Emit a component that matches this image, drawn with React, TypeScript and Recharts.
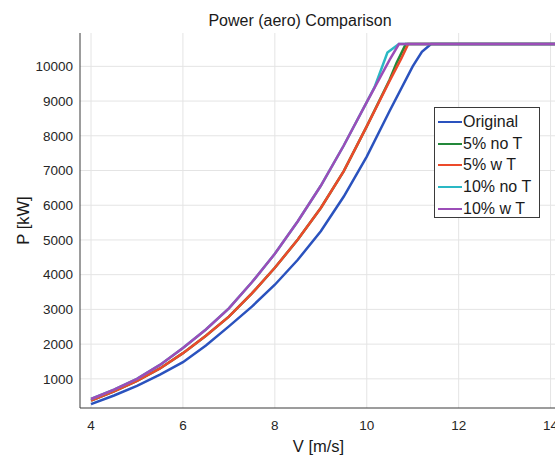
import React from 'react';
import { LineChart, Line, XAxis, YAxis, CartesianGrid, Legend } from 'recharts';

// ---- data ----
const xTicks = [4, 6, 8, 10, 12, 14];
const yTicks = [1000, 2000, 3000, 4000, 5000, 6000, 7000, 8000, 9000, 10000];

const vOriginal = [4, 4.5, 5, 5.5, 6, 6.5, 7, 7.5, 8, 8.5, 9, 9.5, 10, 10.5, 11, 11.2, 11.4, 12, 13, 14, 15];
const pOriginal = [270, 520, 800, 1120, 1480, 1960, 2510, 3080, 3710, 4430, 5250, 6250, 7400, 8720, 10000, 10420, 10640, 10640, 10640, 10640, 10640];

const v5noT = [4, 4.5, 5, 5.5, 6, 6.5, 7, 7.5, 8, 8.5, 9, 9.5, 10, 10.5, 10.65, 10.85, 11, 12, 13, 14, 15];
const p5noT = [370, 640, 940, 1300, 1740, 2240, 2790, 3460, 4200, 5010, 5920, 6980, 8270, 9620, 10100, 10640, 10640, 10640, 10640, 10640, 10640];

const v5wT = [4, 4.5, 5, 5.5, 6, 6.5, 7, 7.5, 8, 8.5, 9, 9.5, 10, 10.5, 10.75, 10.9, 11, 12, 13, 14, 15];
const p5wT = [370, 640, 940, 1300, 1740, 2240, 2790, 3460, 4200, 5010, 5920, 6980, 8270, 9590, 10220, 10640, 10640, 10640, 10640, 10640, 10640];

const v10noT = [4, 4.5, 5, 5.5, 6, 6.5, 7, 7.5, 8, 8.5, 9, 9.5, 10, 10.17, 10.45, 10.7, 11, 12, 13, 14, 15];
const p10noT = [420, 690, 1000, 1400, 1890, 2420, 3030, 3780, 4600, 5540, 6560, 7720, 8970, 9400, 10400, 10640, 10640, 10640, 10640, 10640, 10640];

const v10wT = [4, 4.5, 5, 5.5, 6, 6.5, 7, 7.5, 8, 8.5, 9, 9.5, 10, 10.5, 10.7, 11, 12, 13, 14, 15];
const p10wT = [420, 690, 1000, 1400, 1890, 2420, 3030, 3780, 4600, 5540, 6560, 7720, 8970, 10190, 10640, 10640, 10640, 10640, 10640, 10640];

const seriesNames = ['Original', '5% no T', '5% w T', '10% no T', '10% w T'];
const seriesColors = ['#2a52be', '#23883a', '#ec4a2a', '#2ab8c4', '#9c4db8'];
const seriesV = [vOriginal, v5noT, v5wT, v10noT, v10wT];
const seriesP = [pOriginal, p5noT, p5wT, p10noT, p10wT];

const FONT = '"Liberation Sans", Arial, Helvetica, sans-serif';
const AXIS = '#3a3a3a';
const GRID = '#e4e4e4';

const series = seriesNames.map((name, i) => ({
  name,
  color: seriesColors[i],
  data: seriesV[i].map((v, j) => ({ v, p: seriesP[i][j] })),
}));

const renderLegend = () => (
  <div
    style={{
      border: `1px solid ${AXIS}`,
      background: '#fff',
      width: 106,
      height: 111,
      boxSizing: 'border-box',
      paddingTop: 3,
      textAlign: 'left',
    }}
  >
    {series.map((s) => (
      <div key={s.name} style={{ display: 'flex', alignItems: 'center', height: 21.7 }}>
        <div style={{ width: 24, height: 2, background: s.color, marginLeft: 3, marginRight: 1 }} />
        <span style={{ fontFamily: FONT, fontSize: 16, color: '#1a1a1a', lineHeight: '18px' }}>{s.name}</span>
      </div>
    ))}
  </div>
);

const YLabel = (props: any) => {
  const vb = props.viewBox || {};
  const cx = 28.5;
  const cy = vb.y + vb.height / 2;
  return (
    <text
      x={cx}
      y={cy}
      transform={`rotate(-90 ${cx} ${cy})`}
      textAnchor="middle"
      fontFamily={FONT}
      fontSize={16.5}
      fill="#1a1a1a"
    >
      P [kW]
    </text>
  );
};

export default function App() {
  const xDomain: [number, number] = [3.76, 14.14];
  const yDomain: [number, number] = [160, 10960];
  return (
    <div
      style={{
        position: 'absolute',
        left: 0,
        top: 0,
        width: 555,
        height: 457,
        overflow: 'hidden',
        background: '#fff',
      }}
    >
      <div
        style={{
          position: 'absolute',
          left: 300,
          top: 12.5,
          transform: 'translateX(-50%)',
          fontFamily: FONT,
          fontSize: 16,
          lineHeight: '16px',
          whiteSpace: 'nowrap',
          color: '#1a1a1a',
          zIndex: 2,
        }}
      >
        Power (aero) Comparison
      </div>
      <LineChart width={580} height={457} margin={{ top: 33, right: 23, bottom: 0, left: 0 }}>
        <CartesianGrid stroke={GRID} strokeWidth={1} verticalValues={xTicks} horizontalValues={yTicks} />
        <XAxis
          dataKey="v"
          type="number"
          domain={xDomain}
          ticks={xTicks}
          allowDataOverflow
          height={49}
          tickLine={false}
          tickSize={6}
          tickMargin={6.5}
          axisLine={{ stroke: AXIS, strokeWidth: 1 }}
          tick={{ fill: '#262626', fontFamily: FONT, fontSize: 13.5 }}
          label={{ value: 'V [m/s]', position: 'insideBottom', offset: 5, fill: '#1a1a1a', fontFamily: FONT, fontSize: 16.5 }}
        />
        <XAxis
          xAxisId="bottomTicks"
          orientation="bottom"
          mirror
          type="number"
          domain={xDomain}
          ticks={xTicks}
          allowDataOverflow
          height={0}
          tick={false}
          tickSize={5}
          tickLine={{ stroke: AXIS }}
          axisLine={false}
        />
        <XAxis
          xAxisId="top"
          orientation="top"
          mirror
          type="number"
          domain={xDomain}
          ticks={xTicks}
          allowDataOverflow
          height={0}
          tick={false}
          tickSize={5}
          tickLine={{ stroke: AXIS }}
          axisLine={{ stroke: AXIS, strokeWidth: 1 }}
        />
        <YAxis
          type="number"
          domain={yDomain}
          ticks={yTicks}
          allowDataOverflow
          width={80}
          tickLine={false}
          tickSize={3}
          tickMargin={4}
          axisLine={{ stroke: AXIS, strokeWidth: 1 }}
          tick={{ fill: '#262626', fontFamily: FONT, fontSize: 13.5 }}
          label={{ content: YLabel }}
        />
        <YAxis
          yAxisId="leftTicks"
          orientation="left"
          mirror
          type="number"
          domain={yDomain}
          ticks={yTicks}
          allowDataOverflow
          width={0}
          tick={false}
          tickSize={5}
          tickLine={{ stroke: AXIS }}
          axisLine={false}
        />
        <YAxis
          yAxisId="right"
          orientation="right"
          mirror
          type="number"
          domain={yDomain}
          ticks={yTicks}
          allowDataOverflow
          width={0}
          tick={false}
          tickSize={5}
          tickLine={{ stroke: AXIS }}
          axisLine={{ stroke: AXIS, strokeWidth: 1 }}
        />
        {series.map((s) => (
          <Line
            key={s.name}
            data={s.data}
            dataKey="p"
            name={s.name}
            type="linear"
            stroke={s.color}
            strokeWidth={2.5}
            dot={false}
            activeDot={false}
            isAnimationActive={false}
          />
        ))}
        <Legend
          layout="horizontal"
          align="center"
          verticalAlign="middle"
          wrapperStyle={{ left: 434, top: 107, width: 106, height: 111 }}
          content={renderLegend}
        />
      </LineChart>
    </div>
  );
}
